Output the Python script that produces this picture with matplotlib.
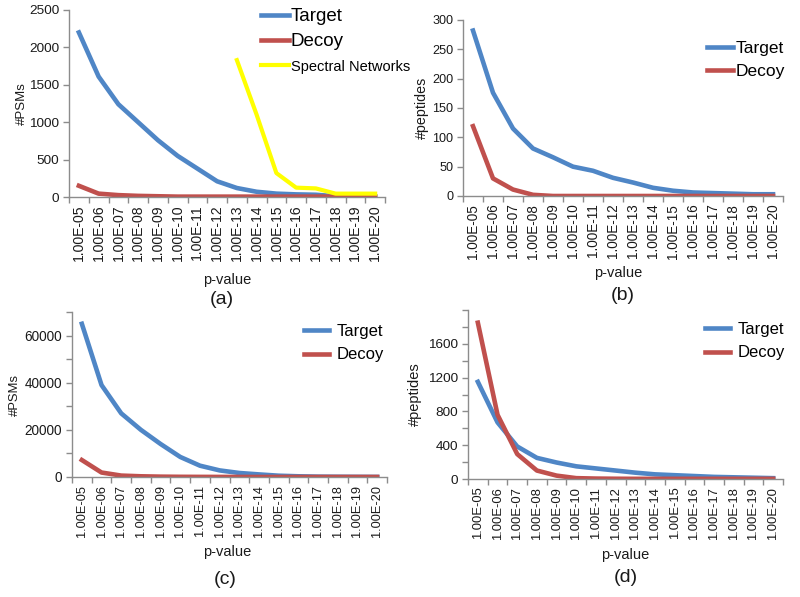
import numpy as np
import matplotlib
matplotlib.use("Agg")
import matplotlib.pyplot as plt
from matplotlib.ticker import MultipleLocator, FixedLocator, NullFormatter

plt.rcParams["font.family"] = ["Liberation Sans", "DejaVu Sans"]

# category labels (p-value thresholds)
pvalues = ["1.00E-05", "1.00E-06", "1.00E-07", "1.00E-08", "1.00E-09", "1.00E-10",
           "1.00E-11", "1.00E-12", "1.00E-13", "1.00E-14", "1.00E-15", "1.00E-16",
           "1.00E-17", "1.00E-18", "1.00E-19", "1.00E-20"]

# (a) #PSMs
a_target = [2200, 1610, 1240, 1000, 760, 550, 380, 210, 120, 70, 45, 35, 30, 10, 5, 5]
a_decoy = [150, 45, 25, 15, 10, 5, 5, 5, 5, 5, 5, 5, 5, 5, 5, 5]
a_spectral = [np.nan] * 8 + [1830, 1100, 320, 125, 115, 45, 45, 45]

# (b) #peptides
b_target = [282, 176, 115, 81, 66, 50, 43, 31, 23, 14, 9, 6, 5, 4, 3, 3]
b_decoy = [119, 30, 11, 2, 0, 0, 0, 0, 0, 0, 0, 0, 0, 0, 0, 0]

# (c) #PSMs
c_target = [65000, 39000, 27000, 20000, 14000, 8500, 4800, 2800, 1700, 1100, 550, 300, 150, 100, 60, 30]
c_decoy = [7200, 1900, 600, 300, 150, 80, 50, 30, 20, 10, 10, 10, 10, 10, 10, 10]

# (d) #peptides
d_target = [1150, 670, 385, 250, 195, 150, 125, 100, 75, 55, 45, 35, 25, 20, 15, 10]
d_decoy = [1850, 760, 295, 100, 40, 10, 5, 3, 2, 2, 2, 2, 2, 2, 2, 2]

BLUE = "#4F86C6"
RED = "#C0504D"
YELLOW = "#FFFF00"
AXC = "#8C8C8C"
TXT = "#1A1A1A"

W, H = 800, 597
fig = plt.figure(figsize=(W / 100, H / 100), dpi=100)


def px_rect(x0, y0, x1, y1):
    return [x0 / W, 1 - y1 / H, (x1 - x0) / W, (y1 - y0) / H]


def setup(ax, ymax, yticks, minor, ylabel, xfs, yfs, lfs, lab_x):
    x = np.arange(len(pvalues))
    ax.set_xlim(-0.5, len(pvalues) - 0.5)
    ax.set_ylim(0, ymax)
    ax.xaxis.set_major_locator(FixedLocator(np.arange(-0.5, len(pvalues))))
    ax.xaxis.set_major_formatter(NullFormatter())
    ax.xaxis.set_minor_locator(FixedLocator(x))
    ax.set_xticklabels(pvalues, minor=True, rotation=90, fontsize=xfs, color=TXT)
    ax.tick_params(axis="x", which="minor", length=0, pad=5.5)
    ax.tick_params(axis="x", which="major", length=4, color=AXC, width=1)
    ax.yaxis.set_major_locator(FixedLocator(yticks))
    if minor:
        ax.yaxis.set_minor_locator(MultipleLocator(minor))
        ax.tick_params(axis="y", which="minor", length=4, color=AXC, width=1)
    ax.tick_params(axis="y", which="major", length=4, color=AXC, width=1,
                   labelsize=yfs, labelcolor=TXT, pad=3)
    for s in ["top", "right"]:
        ax.spines[s].set_visible(False)
    for s in ["left", "bottom"]:
        ax.spines[s].set_color(AXC)
        ax.spines[s].set_linewidth(1)
    ax.set_ylabel(ylabel, fontsize=lfs, color=TXT)
    ax.yaxis.set_label_coords(lab_x, 0.5)
    return x


def add_legend(ax, x0, y0, fs, sp, pad):
    return ax.legend(loc="upper left", bbox_to_anchor=(x0 / W, 1 - y0 / H),
                     bbox_transform=fig.transFigure, frameon=False, fontsize=fs,
                     handlelength=1.5, handletextpad=pad, labelspacing=sp,
                     borderpad=0, borderaxespad=0)


# (a)
ax = fig.add_axes(px_rect(69, 10, 385, 197))
x = setup(ax, 2500, [0, 500, 1000, 1500, 2000, 2500], None, "#PSMs", 10.1, 9.7, 9.5, -0.13)
ax.plot(x, a_target, color=BLUE, lw=3.3, label="Target")
ax.plot(x, a_decoy, color=RED, lw=3.3, label="Decoy")
ax.plot(x, a_spectral, color=YELLOW, lw=3.0, label="Spectral Networks")
leg = add_legend(ax, 261, 8, 13.5, 0.42, 0.1)
leg.get_texts()[2].set_fontsize(10.5)

# (b)
ax = fig.add_axes(px_rect(463, 20, 783, 196))
x = setup(ax, 300, [0, 50, 100, 150, 200, 250, 300], None, "#peptides", 9.75, 9.1, 10.3, -0.106)
ax.plot(x, b_target, color=BLUE, lw=3.3, label="Target")
ax.plot(x, b_decoy, color=RED, lw=3.3, label="Decoy")
add_legend(ax, 707, 41, 12.5, 0.47, 0.15)

# (c)
ax = fig.add_axes(px_rect(72, 312, 387, 477))
x = setup(ax, 70000, [0, 20000, 40000, 60000], 10000, "#PSMs", 9.2, 9.8, 9.4, -0.162)
ax.plot(x, c_target, color=BLUE, lw=3.3, label="Target")
ax.plot(x, c_decoy, color=RED, lw=3.3, label="Decoy")
add_legend(ax, 304, 324, 12, 0.5, 0.45)

# (d)
ax = fig.add_axes(px_rect(468, 310, 783, 479))
x = setup(ax, 2000, [0, 400, 800, 1200, 1600], 200, "#peptides", 9.4, 9.7, 10.5, -0.146)
ax.plot(x, d_target, color=BLUE, lw=3.3, label="Target")
ax.plot(x, d_decoy, color=RED, lw=3.3, label="Decoy")
add_legend(ax, 705, 322, 12, 0.5, 0.45)

# x labels and panel captions
for (px, py, t, fs) in [(227, 280, "p-value", 10.5), (222, 300, "(a)", 14),
                        (618, 273, "p-value", 10.5), (623, 296, "(b)", 14),
                        (227, 552, "p-value", 10.5), (225, 579, "(c)", 14),
                        (625, 555, "p-value", 10.5), (626, 578, "(d)", 14)]:
    fig.text(px / W, 1 - py / H, t, ha="center", va="center", fontsize=fs, color=TXT)

fig.savefig("out.png", dpi=100)
